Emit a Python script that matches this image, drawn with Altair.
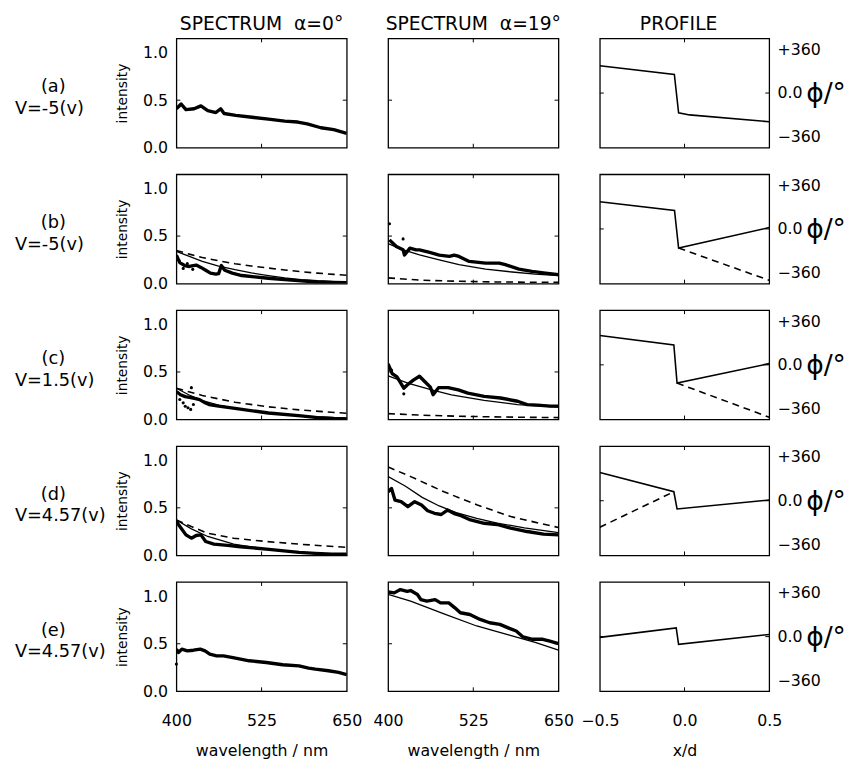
import altair as alt
import pandas as pd

FONT = "DejaVu Sans"

# ---------------- text / ticks ----------------
ROW_LETTERS = ["(a)", "(b)", "(c)", "(d)", "(e)"]
ROW_VOLTAGES = ["V=-5(v)", "V=-5(v)", "V=1.5(v)", "V=4.57(v)", "V=4.57(v)"]
COL_TITLES = ["SPECTRUM\u00a0\u00a0α=0°", "SPECTRUM\u00a0\u00a0α=19°", "PROFILE"]
WL_TICKS = [400, 525, 650]
INT_TICKS = [0.0, 0.5, 1.0]
XD_TICKS = [-0.5, 0.0, 0.5]
PHI_TICKS = [-360, 0, 360]

# ---------------- row (a) ----------------
A0_MEAS_WL = [400, 407, 414, 426, 436, 446, 458, 465, 470, 487, 511, 535, 559, 578, 592, 612, 631, 650]
A0_MEAS_I = [0.41, 0.46, 0.40, 0.41, 0.44, 0.39, 0.37, 0.41, 0.36, 0.34, 0.32, 0.30, 0.28, 0.27, 0.25, 0.21, 0.19, 0.15]
A_PROF_X = [-0.5, -0.06, -0.035, 0.03, 0.5]
A_PROF_PHI = [225, 153, -163, -180, -236]

# ---------------- row (b) ----------------
B0_MEAS_WL = [400, 405, 412, 419, 429, 436, 443, 450, 458, 462, 466, 471, 482, 496, 515, 535, 559, 583, 607, 631, 650]
B0_MEAS_I = [0.30, 0.22, 0.19, 0.18, 0.195, 0.17, 0.14, 0.11, 0.10, 0.105, 0.19, 0.14, 0.11, 0.085, 0.07, 0.056, 0.042, 0.028, 0.017, 0.01, 0.01]
B0_DOT_WL = [404, 410, 416, 424]
B0_DOT_I = [0.24, 0.16, 0.21, 0.15]
B0_THEO_WL = [400, 419, 438, 462, 486, 510, 535, 559, 583, 607, 631, 650]
B0_THEO_I = [0.338, 0.286, 0.233, 0.185, 0.146, 0.112, 0.084, 0.061, 0.042, 0.031, 0.024, 0.021]
B0_DASH_WL = [400, 419, 438, 462, 486, 510, 535, 559, 583, 607, 631, 650]
B0_DASH_I = [0.349, 0.31, 0.275, 0.24, 0.209, 0.185, 0.164, 0.143, 0.125, 0.11, 0.097, 0.087]

B1_MEAS_WL = [402, 412, 422, 424, 432, 441, 446, 461, 475, 490, 497, 504, 519, 543, 563, 572, 592, 611, 631, 650]
B1_MEAS_I = [0.46, 0.39, 0.355, 0.30, 0.373, 0.355, 0.355, 0.328, 0.30, 0.286, 0.30, 0.286, 0.233, 0.216, 0.216, 0.199, 0.153, 0.129, 0.111, 0.094]
B1_DOT_WL = [402, 422]
B1_DOT_I = [0.63, 0.47]
B1_THEO_WL = [400, 420, 446, 475, 504, 543, 582, 616, 650]
B1_THEO_I = [0.42, 0.36, 0.303, 0.25, 0.199, 0.153, 0.122, 0.10, 0.084]
B1_DASH_WL = [400, 450, 500, 550, 600, 650]
B1_DASH_I = [0.06, 0.035, 0.025, 0.018, 0.015, 0.013]

B_PROF_X = [-0.5, -0.059, -0.035, 0.5]
B_PROF_PHI = [224, 152, -157, 11]
B_PROF_DASH_X = [-0.035, 0.5]
B_PROF_DASH_PHI = [-157, -423]

# ---------------- row (c) ----------------
C0_MEAS_WL = [400, 406, 413, 421, 428, 434, 441, 448, 462, 486, 535, 583, 607, 631, 650]
C0_MEAS_I = [0.294, 0.26, 0.24, 0.23, 0.22, 0.209, 0.18, 0.157, 0.14, 0.116, 0.068, 0.038, 0.02, 0.01, 0.007]
C0_DOT_WL = [405, 410, 413, 417, 421, 422, 425]
C0_DOT_I = [0.21, 0.175, 0.14, 0.123, 0.106, 0.335, 0.157]
C0_THEO_WL = [400, 418, 438, 462, 486, 535, 583, 631, 650]
C0_THEO_I = [0.329, 0.26, 0.199, 0.15, 0.116, 0.072, 0.038, 0.02, 0.014]
C0_DASH_WL = [400, 438, 486, 535, 583, 650]
C0_DASH_I = [0.329, 0.253, 0.181, 0.133, 0.099, 0.065]

C1_MEAS_WL = [400, 406, 413, 423, 428, 437, 446, 454, 462, 466, 474, 488, 503, 517, 541, 565, 590, 604, 619, 638, 650]
C1_MEAS_I = [0.585, 0.483, 0.448, 0.329, 0.363, 0.414, 0.455, 0.397, 0.34, 0.26, 0.335, 0.335, 0.311, 0.277, 0.243, 0.226, 0.192, 0.157, 0.151, 0.14, 0.14]
C1_DOT_WL = [405, 423]
C1_DOT_I = [0.52, 0.27]
C1_THEO_WL = [400, 430, 464, 493, 541, 590, 650]
C1_THEO_I = [0.459, 0.38, 0.311, 0.26, 0.202, 0.157, 0.13]
C1_DASH_WL = [400, 450, 500, 550, 600, 650]
C1_DASH_I = [0.062, 0.045, 0.035, 0.028, 0.023, 0.02]

C_PROF_X = [-0.5, -0.063, -0.044, 0.5]
C_PROF_PHI = [242, 164, -150, 10]
C_PROF_DASH_X = [-0.044, 0.5]
C_PROF_DASH_PHI = [-150, -431]

# ---------------- row (d) ----------------
D0_MEAS_WL = [400, 407, 414, 422, 429, 436, 443, 455, 475, 494, 532, 580, 604, 628, 650]
D0_MEAS_I = [0.355, 0.286, 0.216, 0.181, 0.209, 0.216, 0.146, 0.118, 0.105, 0.091, 0.066, 0.031, 0.021, 0.014, 0.014]
D0_THEO_WL = [400, 422, 446, 484, 532, 580, 628, 650]
D0_THEO_I = [0.373, 0.279, 0.199, 0.118, 0.066, 0.035, 0.014, 0.007]
D0_DASH_WL = [400, 422, 446, 484, 532, 580, 650]
D0_DASH_I = [0.373, 0.303, 0.233, 0.181, 0.146, 0.118, 0.084]

D1_MEAS_WL = [400, 405, 410, 419, 429, 439, 449, 458, 468, 478, 487, 497, 507, 521, 531, 541, 560, 580, 604, 628, 650]
D1_MEAS_I = [0.669, 0.704, 0.582, 0.565, 0.512, 0.565, 0.53, 0.47, 0.443, 0.43, 0.477, 0.44, 0.418, 0.373, 0.355, 0.338, 0.325, 0.286, 0.251, 0.223, 0.216]
D1_THEO_WL = [400, 425, 450, 475, 500, 530, 560, 600, 650]
D1_THEO_I = [0.83, 0.73, 0.61, 0.52, 0.45, 0.39, 0.34, 0.29, 0.24]
D1_DASH_WL = [400, 434, 482, 531, 580, 615, 650]
D1_DASH_I = [0.93, 0.826, 0.669, 0.53, 0.408, 0.35, 0.293]

D_PROF_X = [-0.5, -0.063, -0.044, 0.5]
D_PROF_PHI = [232, 74, -68, 6]
D_PROF_DASH_X = [-0.5, -0.063]
D_PROF_DASH_PHI = [-218, 74]

# ---------------- row (e) ----------------
E0_MEAS_WL = [400, 403, 408, 416, 425, 435, 442, 449, 459, 469, 483, 507, 532, 556, 580, 594, 604, 623, 638, 650]
E0_MEAS_I = [0.443, 0.408, 0.443, 0.425, 0.432, 0.443, 0.425, 0.39, 0.373, 0.373, 0.355, 0.321, 0.303, 0.279, 0.268, 0.244, 0.233, 0.216, 0.199, 0.174]
E0_DOT_WL = [400]
E0_DOT_I = [0.286]

E1_MEAS_WL = [400, 409, 418, 428, 433, 443, 448, 457, 469, 477, 489, 498, 506, 520, 535, 549, 564, 578, 588, 598, 612, 627, 636, 650]
E1_MEAS_I = [1.045, 1.035, 1.07, 1.052, 1.06, 1.018, 0.965, 0.948, 0.965, 0.93, 0.93, 0.878, 0.826, 0.808, 0.756, 0.721, 0.704, 0.662, 0.634, 0.572, 0.547, 0.547, 0.53, 0.502]
E1_THEO_WL = [400, 433, 482, 530, 578, 617, 650]
E1_THEO_I = [1.02, 0.948, 0.815, 0.687, 0.592, 0.512, 0.432]

E_PROF_X = [-0.5, -0.049, -0.035, 0.5]
E_PROF_PHI = [-6, 72, -64, 18]

# ---------------- layout ----------------
WIDTHS = [173, 173, 172]
H = 111
INT_DOMAIN = [0, 1.15]
PHI_DOMAIN = [-450, 450]


def df(x, y):
    return pd.DataFrame({"x": x, "y": y})


def frame_ticks(xs, ys, xaxis, yaxis, xt, yt, w):
    xdf = pd.DataFrame({"x": [xt]})
    ydf = pd.DataFrame({"y": [yt]})
    X = alt.X("x:Q", scale=xs, axis=xaxis)
    Y = alt.Y("y:Q", scale=ys, axis=yaxis)
    rule = dict(color="black", strokeWidth=1)
    return [
        alt.Chart(xdf).mark_rule(**rule).encode(x=X, y=alt.value(0), y2=alt.value(4)),
        alt.Chart(xdf).mark_rule(**rule).encode(x=X, y=alt.value(H), y2=alt.value(H - 4)),
        alt.Chart(ydf).mark_rule(**rule).encode(y=Y, x=alt.value(0), x2=alt.value(4)),
        alt.Chart(ydf).mark_rule(**rule).encode(y=Y, x=alt.value(w), x2=alt.value(w - 4)),
    ]


def line(d, X, Y, kind):
    if kind == "meas":
        m = alt.Chart(d).mark_line(color="black", strokeWidth=3.4, strokeJoin="round", clip=True)
    elif kind == "theo":
        m = alt.Chart(d).mark_line(color="black", strokeWidth=1.3, clip=True)
    elif kind == "prof":
        m = alt.Chart(d).mark_line(color="black", strokeWidth=1.6, clip=True)
    else:
        m = alt.Chart(d).mark_line(color="black", strokeWidth=1.6, strokeDash=[7, 5], clip=True)
    return m.encode(x=X, y=Y, order=alt.Order("x:Q"))


def x_axis(values, fmt, title):
    return alt.Axis(values=values, format=fmt, title=title, labelFontSize=16,
                    labelPadding=22, titleFontSize=16, titleFontWeight="normal", titlePadding=14,
                    labelFlush=False, ticks=False, domain=False, grid=False)


def spectrum(r, c, meas=None, theo=None, dash=None, dots=None):
    w = WIDTHS[c]
    xs = alt.Scale(domain=[WL_TICKS[0], WL_TICKS[-1]], nice=False, zero=False)
    ys = alt.Scale(domain=INT_DOMAIN, nice=False)
    xaxis = x_axis(WL_TICKS, "d", "wavelength / nm") if r == 4 else None
    yaxis = None
    if c == 0:
        yaxis = alt.Axis(values=INT_TICKS, format=".1f", title="intensity", labelFontSize=16,
                         labelPadding=9, titleFontSize=14, titleFontWeight="normal", titlePadding=13,
                         ticks=False, domain=False, grid=False)
    X = alt.X("x:Q", scale=xs, axis=xaxis)
    Y = alt.Y("y:Q", scale=ys, axis=yaxis)
    layers = frame_ticks(xs, ys, xaxis, yaxis, WL_TICKS[1], INT_TICKS[1], w)
    if dash is not None:
        layers.append(line(df(*dash), X, Y, "dash"))
    if theo is not None:
        layers.append(line(df(*theo), X, Y, "theo"))
    if meas is not None:
        layers.append(line(df(*meas), X, Y, "meas"))
    if dots is not None:
        layers.append(alt.Chart(df(*dots)).mark_circle(color="black", size=10, opacity=1).encode(x=X, y=Y))
    if c == 0:
        lab = pd.DataFrame({"letter": [ROW_LETTERS[r]], "volt": [ROW_VOLTAGES[r]]})
        layers.append(alt.Chart(lab).mark_text(fontSize=18, font=FONT, align="center", baseline="middle", color="black")
                      .encode(text="letter:N", x=alt.value(-125), y=alt.value(H / 2 - 6)))
        layers.append(alt.Chart(lab).mark_text(fontSize=18, font=FONT, align="left", baseline="middle", color="black")
                      .encode(text="volt:N", x=alt.value(-164), y=alt.value(H / 2 + 16)))
    ch = alt.layer(*layers).properties(width=w, height=H)
    if r == 0:
        ch = ch.properties(title=alt.TitleParams(COL_TITLES[c], fontSize=19, offset=4, anchor="middle",
                                                 font=FONT, fontWeight="normal"))
    return ch


def profile(r, solid, dash=None):
    w = WIDTHS[2]
    xs = alt.Scale(domain=[XD_TICKS[0], XD_TICKS[-1]], nice=False, zero=False)
    ys = alt.Scale(domain=PHI_DOMAIN, nice=False)
    xaxis = x_axis(XD_TICKS, ".1f", "x/d") if r == 4 else None
    yaxis = alt.Axis(orient="right", values=PHI_TICKS,
                     labelExpr="datum.value > 0 ? '+360' : (datum.value < 0 ? '\u2212360' : '0.0')",
                     labelFontSize=16, labelPadding=8, title="ϕ/°", titleAngle=0, titleX=37,
                     titleY=H / 2 + 1, titleAlign="left", titleBaseline="middle", titleFontSize=27,
                     titleFontWeight="normal", ticks=False, domain=False, grid=False)
    X = alt.X("x:Q", scale=xs, axis=xaxis)
    Y = alt.Y("y:Q", scale=ys, axis=yaxis)
    layers = frame_ticks(xs, ys, xaxis, yaxis, XD_TICKS[1], PHI_TICKS[1], w)
    if dash is not None:
        layers.append(line(df(*dash), X, Y, "dash"))
    layers.append(line(df(*solid), X, Y, "prof"))
    ch = alt.layer(*layers).properties(width=w, height=H)
    if r == 0:
        ch = ch.properties(title=alt.TitleParams(COL_TITLES[2], fontSize=19, offset=4, anchor="middle",
                                                 font=FONT, fontWeight="normal", dx=-6))
    return ch


panels = [
    spectrum(0, 0, meas=(A0_MEAS_WL, A0_MEAS_I)),
    spectrum(0, 1),
    profile(0, (A_PROF_X, A_PROF_PHI)),
    spectrum(1, 0, meas=(B0_MEAS_WL, B0_MEAS_I), theo=(B0_THEO_WL, B0_THEO_I),
             dash=(B0_DASH_WL, B0_DASH_I), dots=(B0_DOT_WL, B0_DOT_I)),
    spectrum(1, 1, meas=(B1_MEAS_WL, B1_MEAS_I), theo=(B1_THEO_WL, B1_THEO_I),
             dash=(B1_DASH_WL, B1_DASH_I), dots=(B1_DOT_WL, B1_DOT_I)),
    profile(1, (B_PROF_X, B_PROF_PHI), (B_PROF_DASH_X, B_PROF_DASH_PHI)),
    spectrum(2, 0, meas=(C0_MEAS_WL, C0_MEAS_I), theo=(C0_THEO_WL, C0_THEO_I),
             dash=(C0_DASH_WL, C0_DASH_I), dots=(C0_DOT_WL, C0_DOT_I)),
    spectrum(2, 1, meas=(C1_MEAS_WL, C1_MEAS_I), theo=(C1_THEO_WL, C1_THEO_I),
             dash=(C1_DASH_WL, C1_DASH_I), dots=(C1_DOT_WL, C1_DOT_I)),
    profile(2, (C_PROF_X, C_PROF_PHI), (C_PROF_DASH_X, C_PROF_DASH_PHI)),
    spectrum(3, 0, meas=(D0_MEAS_WL, D0_MEAS_I), theo=(D0_THEO_WL, D0_THEO_I),
             dash=(D0_DASH_WL, D0_DASH_I)),
    spectrum(3, 1, meas=(D1_MEAS_WL, D1_MEAS_I), theo=(D1_THEO_WL, D1_THEO_I),
             dash=(D1_DASH_WL, D1_DASH_I)),
    profile(3, (D_PROF_X, D_PROF_PHI), (D_PROF_DASH_X, D_PROF_DASH_PHI)),
    spectrum(4, 0, meas=(E0_MEAS_WL, E0_MEAS_I), dots=(E0_DOT_WL, E0_DOT_I)),
    spectrum(4, 1, meas=(E1_MEAS_WL, E1_MEAS_I), theo=(E1_THEO_WL, E1_THEO_I)),
    profile(4, (E_PROF_X, E_PROF_PHI)),
]

chart = (
    alt.concat(*panels, columns=3, spacing=alt.RowColnumber(row=27, column=42), bounds="flush")
    .properties(padding={"left": 6, "top": 0, "right": 0, "bottom": 0}, background="white")
    .configure_view(stroke="black", strokeWidth=1.3)
    .configure_axis(labelFont=FONT, titleFont=FONT, labelColor="black", titleColor="black")
    .configure_title(font=FONT, color="black")
)

chart.save("out.html", embed_options={"renderer": "svg", "actions": False})
